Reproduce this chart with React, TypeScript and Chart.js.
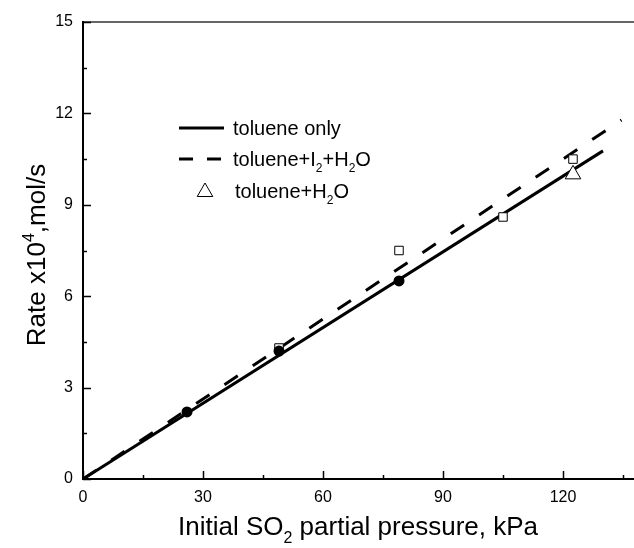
import React, { useEffect, useRef } from "react";
import { Chart, registerables } from "chart.js";
Chart.register(...registerables);

const xTicks = [0, 30, 60, 90, 120];
const yTicks = [0, 3, 6, 9, 12, 15];
const xMinorTicks = [15, 45, 75, 105, 135];
const yMinorTicks = [1.5, 4.5, 7.5, 10.5, 13.5];

const tolueneOnlyX = [26, 49, 79];
const tolueneOnlyY = [2.2, 4.2, 6.5];
const iodineWaterX = [49, 79, 105, 122.5];
const iodineWaterY = [4.3, 7.5, 8.6, 10.5];
const waterX = [122.5];
const waterY = [10.0];
const fitSolidX = [0, 130];
const fitSolidY = [0, 10.77];
const fitDashedX = [0, 134.6];
const fitDashedY = [0, 11.78];

const legendLabels = ["toluene only", "toluene+I2+H2O", "toluene+H2O"];

const FONT = '"Liberation Sans", Arial, sans-serif';

const pts = (xs: number[], ys: number[]) => xs.map((x, i) => ({ x, y: ys[i] }));

type Part = { t: string; s: number };

function chemParts(label: string): Part[] {
  const parts: Part[] = [];
  let buf = "";
  for (let i = 0; i < label.length; i++) {
    const c = label[i];
    if (c === "2" && i > 0 && /[A-Z]/.test(label[i - 1])) {
      if (buf) parts.push({ t: buf, s: 0 });
      buf = "";
      parts.push({ t: "2", s: 1 });
    } else buf += c;
  }
  if (buf) parts.push({ t: buf, s: 0 });
  return parts;
}

function drawRich(ctx: CanvasRenderingContext2D, parts: Part[], x: number, cy: number, size: number, align: "left" | "center") {
  const small = Math.round(size * 0.62);
  const widths = parts.map((p) => {
    ctx.font = `${p.s === 0 ? size : small}px ${FONT}`;
    return ctx.measureText(p.t).width;
  });
  const total = widths.reduce((a, b) => a + b, 0);
  let cx = align === "center" ? x - total / 2 : x;
  const base = cy + size * 0.36;
  ctx.textAlign = "left";
  ctx.textBaseline = "alphabetic";
  parts.forEach((p, i) => {
    ctx.font = `${p.s === 0 ? size : small}px ${FONT}`;
    let y = base;
    if (p.s === 1) y = base + size * 0.3;
    if (p.s === -1) y = base - size * 0.42;
    ctx.fillText(p.t, cx, y);
    cx += widths[i];
  });
}

const decor = {
  id: "decor",
  afterDraw(chart: any) {
    const { ctx, chartArea, scales } = chart;
    const xs = scales.x;
    const ys = scales.y;
    const { left, top, bottom } = chartArea;
    ctx.save();
    ctx.lineWidth = 1.5;
    ctx.strokeStyle = "#333";
    ctx.beginPath();
    ctx.moveTo(left, top);
    ctx.lineTo(chart.width, top);
    ctx.stroke();
    ctx.strokeStyle = "#000";
    ctx.lineWidth = 2;
    ctx.beginPath();
    ctx.moveTo(left, top - 1);
    ctx.lineTo(left, bottom);
    ctx.lineTo(chart.width, bottom);
    ctx.stroke();
    ctx.lineWidth = 1.5;
    ctx.beginPath();
    xTicks.forEach((v) => {
      const px = Math.round(xs.getPixelForValue(v)) + 0.5;
      ctx.moveTo(px, bottom);
      ctx.lineTo(px, bottom - 8);
    });
    xMinorTicks.forEach((v) => {
      const px = Math.round(xs.getPixelForValue(v)) + 0.5;
      ctx.moveTo(px, bottom);
      ctx.lineTo(px, bottom - 4);
    });
    yTicks.forEach((v) => {
      const py = Math.round(ys.getPixelForValue(v)) + 0.5;
      ctx.moveTo(left, py);
      ctx.lineTo(left + 8, py);
    });
    yMinorTicks.forEach((v) => {
      const py = Math.round(ys.getPixelForValue(v)) + 0.5;
      ctx.moveTo(left, py);
      ctx.lineTo(left + 4, py);
    });
    ctx.stroke();

    ctx.fillStyle = "#000";
    drawRich(
      ctx,
      [
        { t: "Initial SO", s: 0 },
        { t: "2", s: 1 },
        { t: " partial pressure, kPa", s: 0 },
      ],
      358,
      526,
      26,
      "center"
    );
    ctx.save();
    ctx.translate(36, 255);
    ctx.rotate(-Math.PI / 2);
    drawRich(
      ctx,
      [
        { t: "Rate x10", s: 0 },
        { t: "4", s: -1 },
        { t: ",mol/s", s: 0 },
      ],
      0,
      0,
      26,
      "center"
    );
    ctx.restore();

    const lx0 = 179;
    const lx1 = 221;
    const tx = 233;
    const rows = [128, 159, 191];
    ctx.lineWidth = 3;
    ctx.beginPath();
    ctx.moveTo(lx0, rows[0]);
    ctx.lineTo(lx1 + 3, rows[0]);
    ctx.stroke();
    ctx.beginPath();
    ctx.moveTo(lx0, rows[1]);
    ctx.lineTo(lx0 + 14, rows[1]);
    ctx.moveTo(lx1 - 14, rows[1]);
    ctx.lineTo(lx1, rows[1]);
    ctx.stroke();
    const r = 9;
    const tcx = 205;
    const tcy = rows[2] + 1;
    ctx.lineWidth = 1;
    ctx.beginPath();
    ctx.moveTo(tcx, tcy - r);
    ctx.lineTo(tcx + 0.866 * r, tcy + 0.5 * r);
    ctx.lineTo(tcx - 0.866 * r, tcy + 0.5 * r);
    ctx.closePath();
    ctx.fillStyle = "#fff";
    ctx.fill();
    ctx.stroke();
    ctx.fillStyle = "#000";
    legendLabels.forEach((lab, i) => {
      drawRich(ctx, chemParts(lab), i === 2 ? tx + 2 : tx, rows[i], 20, "left");
    });
    ctx.restore();
  },
};

export default function App() {
  const ref = useRef<HTMLCanvasElement>(null);
  useEffect(() => {
    const canvas = ref.current!;
    const chart = new Chart(canvas, {
      type: "scatter",
      data: {
        datasets: [
          {
            label: "toluene only",
            data: pts(tolueneOnlyX, tolueneOnlyY),
            pointStyle: "circle",
            pointRadius: 5.5,
            backgroundColor: "#000",
            borderColor: "#000",
            borderWidth: 0,
            order: 1,
          },
          {
            label: "toluene+I2+H2O",
            data: pts(iodineWaterX, iodineWaterY),
            pointStyle: "rect",
            pointRadius: 6,
            backgroundColor: "#fff",
            borderColor: "#000",
            borderWidth: 1,
            order: 3,
          },
          {
            label: "toluene+H2O",
            data: pts(waterX, waterY),
            pointStyle: "triangle",
            pointRadius: 9,
            backgroundColor: "#fff",
            borderColor: "#000",
            borderWidth: 1,
            order: 2,
          },
          {
            label: "fit toluene only",
            data: pts(fitSolidX, fitSolidY),
            showLine: true,
            pointRadius: 0,
            borderColor: "#000",
            borderWidth: 3,
            order: 5,
          },
          {
            label: "fit toluene+I2+H2O",
            data: pts(fitDashedX, fitDashedY),
            showLine: true,
            pointRadius: 0,
            borderColor: "#000",
            borderWidth: 3,
            borderDash: [16, 18],
            order: 4,
          },
        ],
      },
      options: {
        animation: false,
        responsive: false,
        devicePixelRatio: 1,
        layout: { autoPadding: false, padding: { left: 0, top: 22, right: 0, bottom: 0 } },
        plugins: { legend: { display: false }, tooltip: { enabled: false } },
        scales: {
          x: {
            type: "linear",
            min: 0,
            max: 137.75,
            grid: { display: false, drawTicks: false },
            border: { display: false },
            afterBuildTicks: (s: any) => {
              s.ticks = xTicks.map((v) => ({ value: v }));
            },
            afterFit: (s: any) => {
              s.height = 69;
              s.paddingLeft = 0;
              s.paddingRight = 0;
            },
            ticks: {
              color: "#000",
              font: { family: FONT, size: 16 },
              padding: 9,
              maxRotation: 0,
            },
          },
          y: {
            type: "linear",
            min: 0,
            max: 15,
            grid: { display: false, drawTicks: false },
            border: { display: false },
            afterBuildTicks: (s: any) => {
              s.ticks = yTicks.map((v) => ({ value: v }));
            },
            afterFit: (s: any) => {
              s.width = 83;
            },
            ticks: {
              color: "#000",
              font: { family: FONT, size: 16 },
              padding: 10,
            },
          },
        },
      },
      plugins: [decor],
    });
    return () => chart.destroy();
  }, []);
  return (
    <div style={{ position: "fixed", left: 0, top: 0, width: 634, height: 548, background: "#fff" }}>
      <canvas ref={ref} width={634} height={548} style={{ width: 634, height: 548, display: "block" }} />
    </div>
  );
}
